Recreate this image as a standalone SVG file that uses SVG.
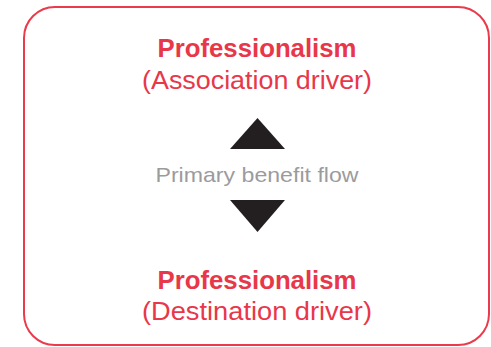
<svg xmlns="http://www.w3.org/2000/svg" width="491" height="347" viewBox="0 0 491 347">
<style>
.frame{fill:#fff;stroke:#ea3a4b;stroke-width:2}
.title{font-family:"Liberation Sans",Arial,sans-serif;font-weight:bold;font-size:26px;fill:#e8374a;text-anchor:middle}
.sub{font-family:"Liberation Sans",Arial,sans-serif;font-size:25px;fill:#e8374a;text-anchor:middle}
.flow{font-family:"Liberation Sans",Arial,sans-serif;font-size:21px;fill:#9b9b9e;text-anchor:middle}
.tri{fill:#231f20}
</style>
<rect class="frame" x="24" y="7" width="465" height="338" rx="31" ry="31"/>
<g id="association">
<text class="title" x="257" y="57" textLength="199" lengthAdjust="spacingAndGlyphs">Professionalism</text>
<text class="sub" x="257" y="89" textLength="230" lengthAdjust="spacingAndGlyphs">(Association driver)</text>
</g>
<g id="connectors">
<polygon class="tri" points="230,149 285,149 257.5,118"/>
<text class="flow" x="257" y="182" textLength="203" lengthAdjust="spacingAndGlyphs">Primary benefit flow</text>
<polygon class="tri" points="230,200 285,200 257.5,232"/>
</g>
<g id="destination">
<text class="title" x="257" y="289" textLength="199" lengthAdjust="spacingAndGlyphs">Professionalism</text>
<text class="sub" x="257" y="320" textLength="230" lengthAdjust="spacingAndGlyphs">(Destination driver)</text>
</g>
</svg>
